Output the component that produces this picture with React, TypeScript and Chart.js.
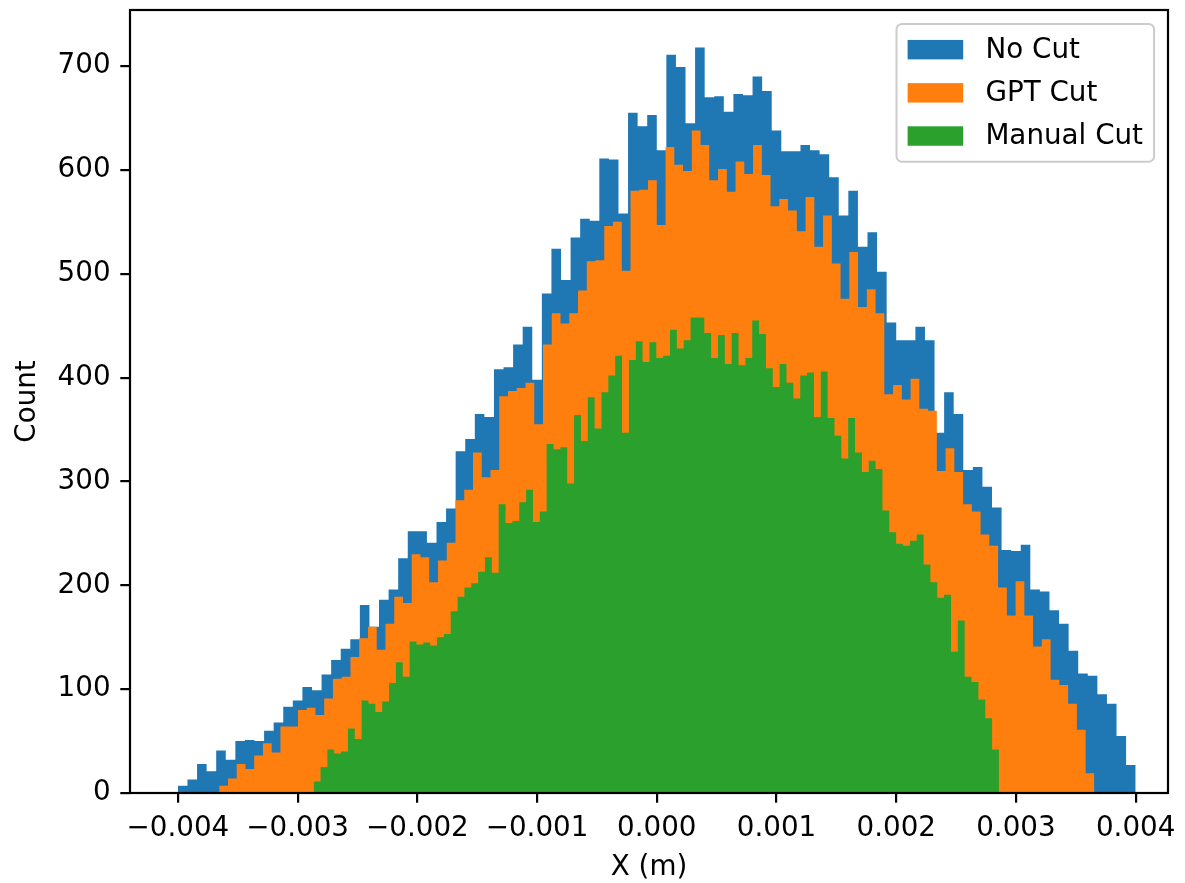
import React, { useEffect, useRef } from 'react';
import { Chart, registerables } from 'chart.js';

Chart.register(...registerables);

const SERIES_LABELS = ['No Cut', 'GPT Cut', 'Manual Cut'];
const SERIES_COLORS = ['#1f77b4', '#ff7f0e', '#2ca02c'];

// histogram bin ranges (x in metres), 100 equal bins each
const NO_CUT_RANGE = [-0.004, 0.004];
const GPT_CUT_RANGE = [-0.003655, 0.003655];
const MANUAL_CUT_RANGE = [-0.002866, 0.002858];

const NO_CUT_COUNTS = [
  7, 13, 28, 21, 41, 32, 50, 51, 50, 60,
  68, 83, 89, 102, 99, 114, 128, 139, 148, 181,
  160, 186, 196, 226, 252, 252, 241, 261, 274, 329,
  341, 365, 362, 408, 410, 432, 449, 398, 481, 524,
  494, 535, 553, 551, 611, 610, 558, 655, 642, 653,
  619, 711, 699, 645, 718, 670, 671, 656, 673, 672,
  690, 676, 638, 618, 618, 624, 619, 615, 593, 556,
  580, 526, 540, 502, 453, 436, 436, 449, 436, 347,
  386, 365, 311, 314, 295, 275, 234, 233, 239, 196,
  194, 176, 163, 137, 115, 113, 95, 86, 55, 27,
];

const GPT_CUT_COUNTS = [
  7, 14, 28, 23, 36, 48, 39, 64, 64, 80,
  82, 75, 91, 110, 112, 131, 149, 160, 138, 163,
  189, 183, 230, 227, 203, 224, 241, 282, 292, 328,
  304, 311, 382, 387, 390, 395, 355, 432, 462, 452,
  462, 484, 512, 513, 546, 550, 503, 580, 581, 590,
  547, 622, 605, 599, 638, 624, 590, 601, 579, 608,
  596, 624, 595, 565, 572, 561, 541, 574, 526, 556,
  510, 476, 521, 468, 485, 462, 384, 393, 379, 399,
  370, 368, 310, 332, 309, 278, 271, 249, 238, 198,
  171, 204, 171, 141, 148, 109, 104, 86, 61, 19,
];

const MANUAL_CUT_COUNTS = [
  11, 25, 42, 38, 40, 62, 52, 89, 86, 78,
  88, 106, 126, 112, 146, 143, 145, 142, 150, 153,
  175, 189, 198, 202, 213, 227, 212, 278, 260, 262,
  280, 292, 261, 271, 336, 331, 333, 298, 364, 339,
  381, 351, 386, 402, 421, 347, 417, 435, 415, 434,
  419, 421, 446, 428, 436, 458, 458, 443, 419, 441,
  413, 443, 412, 419, 455, 442, 409, 391, 413, 395,
  380, 402, 405, 362, 406, 361, 344, 322, 361, 328,
  309, 320, 312, 272, 251, 240, 238, 243, 249, 220,
  203, 188, 191, 136, 166, 112, 107, 90, 72, 42,
];

const X_TICKS = [-0.004, -0.003, -0.002, -0.001, 0, 0.001, 0.002, 0.003, 0.004];
const Y_TICKS = [0, 100, 200, 300, 400, 500, 600, 700];
const X_LIMITS = [-0.0044, 0.00427];
const Y_LIMITS = [0, 754];
const X_TITLE = 'X (m)';
const Y_TITLE = 'Count';

const FONT_FAMILY = '"DejaVu Sans", "Liberation Sans", sans-serif';
const FS = 27.78;

function histPoints(range: number[], counts: number[]) {
  const n = counts.length;
  const w = (range[1] - range[0]) / n;
  const pts = counts.map((c, i) => ({ x: range[0] + i * w, y: c }));
  pts.push({ x: range[1], y: counts[n - 1] });
  return pts;
}

const frameAndLegend = {
  id: 'frameAndLegend',
  afterDraw(chart: any) {
    const { ctx, chartArea } = chart;
    const { left, right, top, bottom } = chartArea;
    ctx.save();
    // spines
    ctx.strokeStyle = '#000';
    ctx.lineWidth = 2.2;
    ctx.strokeRect(left, top, right - left, bottom - top);

    // legend (matplotlib style)
    ctx.font = `${FS}px ${FONT_FAMILY}`;
    const borderPad = 0.4 * FS;
    const labelSpacing = 0.5 * FS;
    const handleLen = 2.0 * FS;
    const handleH = 0.7 * FS;
    const textPad = 0.8 * FS;
    const axesPad = 0.5 * FS;
    const rowH = 29.3;
    const maxText = Math.max(...SERIES_LABELS.map((t) => ctx.measureText(t).width));
    const w = borderPad * 2 + handleLen + textPad + maxText;
    const h = borderPad * 2 + rowH * SERIES_LABELS.length + labelSpacing * (SERIES_LABELS.length - 1);
    const x0 = right - axesPad - w;
    const y0 = top + axesPad;
    const r = 0.2 * FS;
    ctx.beginPath();
    ctx.moveTo(x0 + r, y0);
    ctx.lineTo(x0 + w - r, y0);
    ctx.arcTo(x0 + w, y0, x0 + w, y0 + r, r);
    ctx.lineTo(x0 + w, y0 + h - r);
    ctx.arcTo(x0 + w, y0 + h, x0 + w - r, y0 + h, r);
    ctx.lineTo(x0 + r, y0 + h);
    ctx.arcTo(x0, y0 + h, x0, y0 + h - r, r);
    ctx.lineTo(x0, y0 + r);
    ctx.arcTo(x0, y0, x0 + r, y0, r);
    ctx.closePath();
    ctx.fillStyle = 'rgba(255,255,255,0.8)';
    ctx.fill();
    ctx.strokeStyle = '#cccccc';
    ctx.lineWidth = 2;
    ctx.stroke();

    ctx.textAlign = 'left';
    ctx.textBaseline = 'middle';
    SERIES_LABELS.forEach((label, i) => {
      const cy = y0 + borderPad + rowH / 2 + i * (rowH + labelSpacing);
      ctx.fillStyle = SERIES_COLORS[i];
      ctx.fillRect(x0 + borderPad, cy - handleH / 2, handleLen, handleH);
      ctx.fillStyle = '#000';
      ctx.fillText(label, x0 + borderPad + handleLen + textPad, cy + 1);
    });
    ctx.restore();
  },
};

export default function App() {
  const canvasRef = useRef<HTMLCanvasElement | null>(null);

  useEffect(() => {
    document.body.style.margin = '0';
    const canvas = canvasRef.current;
    if (!canvas) return;

    const ranges = [NO_CUT_RANGE, GPT_CUT_RANGE, MANUAL_CUT_RANGE];
    const counts = [NO_CUT_COUNTS, GPT_CUT_COUNTS, MANUAL_CUT_COUNTS];

    const datasets = SERIES_LABELS.map((label, i) => ({
      label,
      data: histPoints(ranges[i], counts[i]),
      stepped: 'before' as const,
      fill: 'origin',
      backgroundColor: SERIES_COLORS[i],
      borderColor: 'rgba(0,0,0,0)',
      borderWidth: 0,
      pointRadius: 0,
      pointHoverRadius: 0,
      order: SERIES_LABELS.length - i,
    }));

    const tickFont = { family: FONT_FAMILY, size: FS };

    const chart = new Chart(canvas, {
      type: 'line',
      data: { datasets: datasets as any },
      plugins: [frameAndLegend],
      options: {
        responsive: false,
        animation: false,
        devicePixelRatio: 1,
        events: [],
        layout: { padding: { left: 0, right: 17, top: 10, bottom: 0 } },
        plugins: {
          legend: { display: false },
          tooltip: { enabled: false },
          filler: { propagate: false },
        },
        scales: {
          x: {
            type: 'linear',
            min: X_LIMITS[0],
            max: X_LIMITS[1],
            afterBuildTicks: (s: any) => {
              s.ticks = X_TICKS.map((v) => ({ value: v }));
            },
            afterFit: (s: any) => {
              s.height = 90;
              s.paddingLeft = 0;
              s.paddingRight = 0;
            },
            border: { display: false },
            grid: {
              display: true,
              drawOnChartArea: false,
              drawTicks: true,
              tickLength: 9.7,
              color: '#000',
              lineWidth: 2.2,
            },
            ticks: {
              autoSkip: false,
              maxRotation: 0,
              minRotation: 0,
              padding: 9,
              color: '#000',
              font: tickFont,
              callback: (v: any) => {
                const n = Number(v);
                const s = Math.abs(n).toFixed(3);
                return n < -1e-12 ? '\u2212' + s : s;
              },
            },
            title: {
              display: true,
              text: X_TITLE,
              color: '#000',
              font: { family: FONT_FAMILY, size: FS, lineHeight: 1.2 },
              padding: { top: 0, bottom: -1 },
            },
          },
          y: {
            type: 'linear',
            min: Y_LIMITS[0],
            max: Y_LIMITS[1],
            afterBuildTicks: (s: any) => {
              s.ticks = Y_TICKS.map((v) => ({ value: v }));
            },
            afterFit: (s: any) => {
              s.width = 130;
              s.paddingTop = 0;
              s.paddingBottom = 0;
            },
            border: { display: false },
            grid: {
              display: true,
              drawOnChartArea: false,
              drawTicks: true,
              tickLength: 9.7,
              color: '#000',
              lineWidth: 2.2,
            },
            ticks: {
              autoSkip: false,
              padding: 9.7,
              color: '#000',
              font: tickFont,
              callback: (v: any) => String(v),
            },
            title: {
              display: true,
              text: Y_TITLE,
              color: '#000',
              font: { family: FONT_FAMILY, size: FS, lineHeight: 1.2 },
              padding: { top: 11, bottom: 0 },
            },
          },
        },
      },
    });

    return () => {
      chart.destroy();
    };
  }, []);

  return (
    <div style={{ width: 1185, height: 883 }}>
      <canvas ref={canvasRef} width={1185} height={883} style={{ display: 'block' }} />
    </div>
  );
}
